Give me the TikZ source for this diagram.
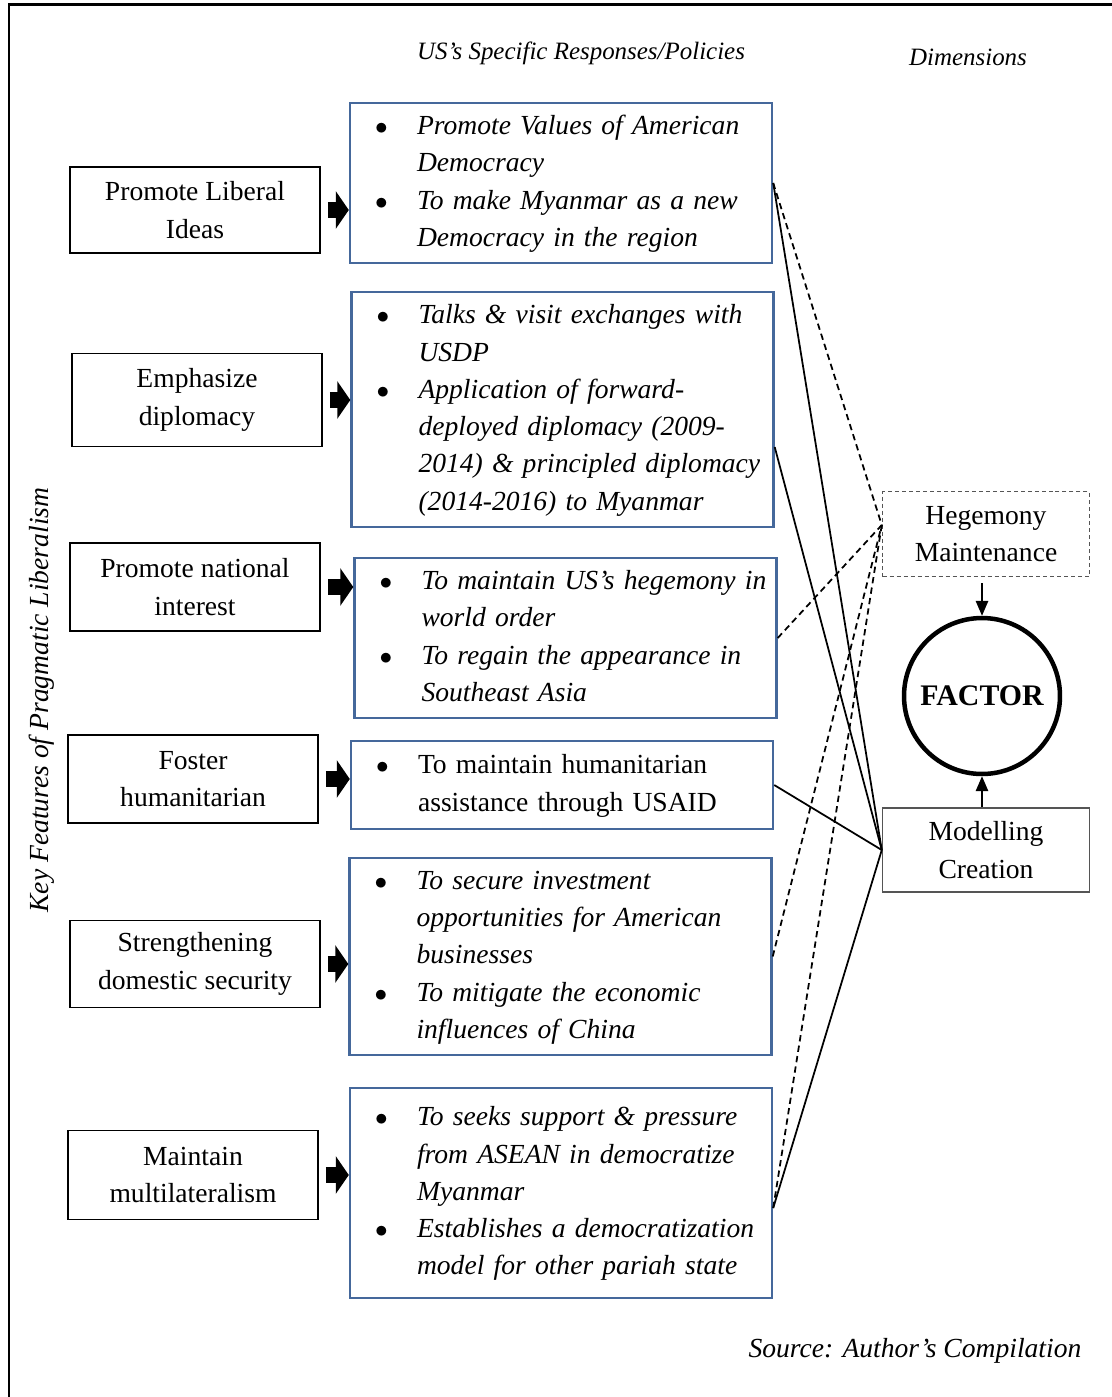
\documentclass[tikz,border=0pt]{standalone}
\usepackage{fontspec}
\setmainfont{Liberation Serif}
\usepackage{array}
\usetikzlibrary{arrows.meta}

\definecolor{boxblue}{RGB}{69,104,155}
\definecolor{dimgray}{RGB}{85,85,85}

\newcommand{\mainsize}{\fontsize{15.7}{21.2}\selectfont}
\newcommand{\bul}{$\bullet$}
\newcolumntype{I}{@{\hspace{0.25cm}}p{0.84cm}@{}>{\itshape}l@{}}
\newcolumntype{N}{@{\hspace{0.25cm}}p{0.84cm}@{}l@{}}

\tikzset{
	feature/.style={draw,line width=0.035cm,minimum width=5cm,align=center,font=\mainsize},
	response/.style={draw=boxblue,line width=0.05cm,inner xsep=0.25cm,inner ysep=0.1cm,text width=7.94cm,align=left,font=\mainsize},
	dimension/.style={draw=dimgray,line width=0.03cm,minimum width=4.14cm,minimum height=1.7cm,align=center,font=\mainsize},
	link/.style={line width=1pt},
	dlink/.style={link,dash pattern=on 3.6pt off 2.4pt},
	block/.style={-{Triangle[length=0.26cm,width=0.74cm]},line width=0.32cm},
	flow/.style={-{Triangle[length=0.3cm,width=0.25cm]},line width=0.03cm},
}

\begin{document}
\begin{tikzpicture}[x=0.02cm,y=-0.02cm]
	\useasboundingbox (0,0) rectangle (1112,1397);
	\draw[line width=0.06cm] (9,1397) -- (9,4) -- (1112,4);

	% headings
	\node[font=\fontsize{14.2}{17}\selectfont\itshape] (policies) at (581,53) {US’s Specific Responses/Policies};
	\node[font=\fontsize{14.2}{17}\selectfont\itshape] (dims) at (968,57) {Dimensions};
	\node[rotate=90,font=\mainsize\itshape] (keyfeat) at (42,700) {Key Features of Pragmatic Liberalism};
	\node[font=\mainsize\itshape] (source) at (915,1351) {Source: Author’s Compilation};

	\begin{scope} % responses
		\node[response,minimum height=3.2cm] (resp1) at (561,183) {\begin{tabular}{I}
			\bul & Promote Values of American\\
			& Democracy\\
			\bul & To make Myanmar as a new\\
			& Democracy in the region
		\end{tabular}};
		\node[response,minimum height=4.7cm] (resp2) at (562.5,409.5) {\begin{tabular}{I}
			\bul & Talks \& visit exchanges with\\
			& USDP\\
			\bul & Application of forward-\\
			& deployed diplomacy (2009-\\
			& 2014) \& principled diplomacy\\
			& (2014-2016) to Myanmar
		\end{tabular}};
		\node[response,minimum height=3.2cm] (resp3) at (565.5,638) {\begin{tabular}{I}
			\bul & To maintain US’s hegemony in\\
			& world order\\
			\bul & To regain the appearance in\\
			& Southeast Asia
		\end{tabular}};
		\node[response,minimum height=1.76cm] (resp4) at (562,785) {\begin{tabular}{N}
			\bul & To maintain humanitarian\\
			& assistance through USAID
		\end{tabular}};
		\node[response,minimum height=3.94cm] (resp5) at (560.5,956.5) {\begin{tabular}{I}
			\bul & To secure investment\\
			& opportunities for American\\
			& businesses\\
			\bul & To mitigate the economic\\
			& influences of China
		\end{tabular}};
		\node[response,minimum height=4.2cm] (resp6) at (561,1193) {\begin{tabular}{I}
			\bul & To seeks support \& pressure\\
			& from ASEAN in democratize\\
			& Myanmar\\
			\bul & Establishes a democratization\\
			& model for other pariah state
		\end{tabular}};
	\end{scope}

	% features
	\foreach \i/\x/\y/\h/\txt in {1/195/210/86/{Promote Liberal\\Ideas},2/197/400/93/{Emphasize\\diplomacy},3/195/587/88/{Promote national\\interest},4/193/779/88/{Foster\\humanitarian},5/195/964/87/{Strengthening\\domestic security},6/193/1175/89/{Maintain\\multilateralism}}
		{
			\node[feature,minimum height=\h*0.02cm] (feat\i) at (\x,\y) {\txt};
			\draw[block] ([xshift=0.14cm]feat\i.east) -- (resp\i.west |- feat\i.east);
		}

	\begin{scope} % dimensions
		\node[dimension,dash pattern=on 0.08cm off 0.06cm] (hegemony) at (986,534) {Hegemony\\Maintenance};
		\node[dimension,minimum height=1.68cm] (modelling) at (986,850) {Modelling\\Creation};
		\node[circle,draw,line width=0.09cm,minimum size=3.12cm,font=\fontsize{17}{20}\selectfont\bfseries] (factor) at (982,696) {FACTOR};
		\draw[flow,shorten <=0.12cm] (hegemony.south -| factor.north) -- (factor.north);
		\draw[flow] (modelling.north -| factor.south) -- (factor.south);
	\end{scope}

	% connectors
	\coordinate (hm) at ([yshift=0.18cm]hegemony.west);
	\coordinate (mc) at (modelling.west);
	\coordinate (r2) at ([yshift=-0.75cm]resp2.east);
	\coordinate (r6) at ([yshift=-0.3cm]resp6.east);
	\foreach \from in {resp1.east,resp3.east,resp5.east,r6}
		\draw[dlink] (\from) -- (hm);
	\foreach \from in {resp1.east,r2,resp4.east,r6}
		\draw[link] (\from) -- (mc);
\end{tikzpicture}
\end{document}
